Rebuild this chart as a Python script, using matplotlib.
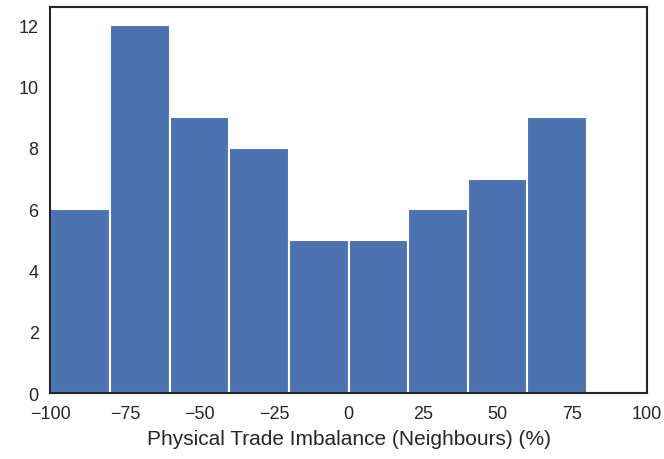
import numpy as np
import seaborn as sns
import matplotlib.pyplot as plt

sns.set_style('white')
plt.rcParams['font.family'] = ['Liberation Sans', 'DejaVu Sans']

# histogram bins (left edges, width 20) and counts
bin_edges = [-100, -80, -60, -40, -20, 0, 20, 40, 60, 80]
counts = [6, 12, 9, 8, 5, 5, 6, 7, 9]

fig, ax = plt.subplots(figsize=(6.64, 4.6), dpi=100)
ax.hist(bin_edges[:-1], bins=bin_edges, weights=counts,
        color='#4C72B0', edgecolor='white', linewidth=1.5)

ax.set_xlim(-100, 100)
ax.set_ylim(0, 12.6)
ax.set_yticks(np.arange(0, 13, 2))
ax.tick_params(labelsize=13, colors='#262626', pad=5)
ax.set_xlabel('Physical Trade Imbalance (Neighbours) (%)', fontsize=15,
              color='#262626', labelpad=5)
for s in ax.spines.values():
    s.set_color('#262626')
    s.set_linewidth(1.5)

fig.subplots_adjust(left=0.076, right=0.974, top=0.983, bottom=0.143)
fig.savefig('out.png', dpi=100)
